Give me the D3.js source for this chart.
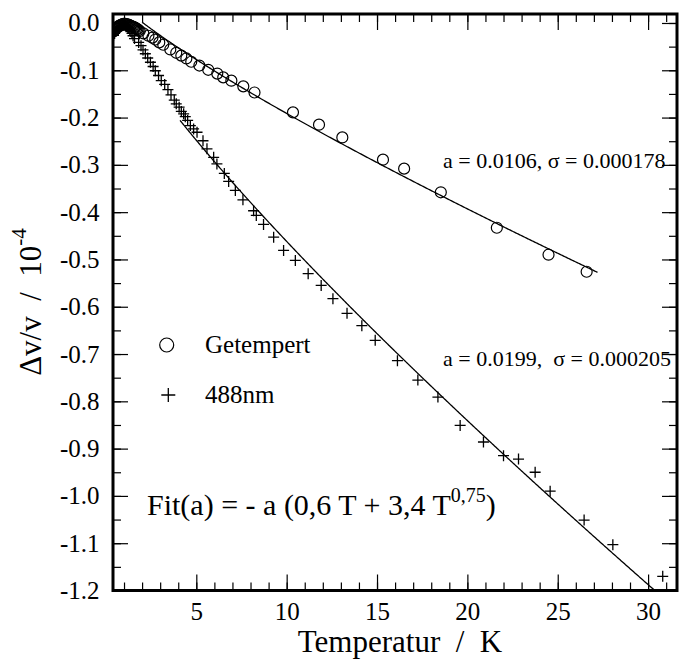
<!DOCTYPE html>
<html>
<head>
<meta charset="utf-8">
<script src="https://cdn.jsdelivr.net/npm/d3@7/dist/d3.min.js"></script>
<style>
  html, body { margin: 0; padding: 0; background: #fff; }
  svg { display: block; }
  svg text { font-family: "Liberation Serif", "Times New Roman", Times, serif; fill: #000; }
</style>
</head>
<body>
<svg id="chart" width="679" height="663"></svg>
<script>
// Relative sound-velocity change Δv/v (units of 1e-4) versus temperature

// annealed sample ("Getempert")
const annealedT = [0.42,0.48,0.54,0.60,0.66,0.72,0.78,0.84,0.90,0.96,1.02,1.08,1.14,1.20,1.26,1.32,
  1.38,1.44,1.50,1.56,1.62,1.68,1.74,1.80,
  1.87,2.07,2.35,2.57,2.73,2.95,3.17,3.56,3.89,4.17,4.45,4.72,5.17,5.66,6.16,6.49,6.94,
  7.6,8.22,10.35,11.79,13.08,15.33,16.5,18.53,21.63,24.49,26.6];
const annealedV = [-0.018,-0.015,-0.012,-0.010,-0.008,-0.006,-0.005,-0.004,-0.003,-0.002,-0.002,-0.002,-0.003,-0.003,-0.004,-0.005,
  -0.006,-0.007,-0.008,-0.009,-0.010,-0.012,-0.013,-0.015,
  -0.017,-0.022,-0.027,-0.031,-0.035,-0.041,-0.046,-0.056,-0.063,-0.069,-0.075,-0.082,-0.090,-0.099,-0.107,-0.115,-0.122,
  -0.134,-0.147,-0.189,-0.215,-0.242,-0.289,-0.308,-0.358,-0.433,-0.490,-0.526];

// illuminated sample (488 nm)
const litT = [0.42,0.48,0.54,0.60,0.66,0.72,0.78,0.84,0.90,0.96,1.02,1.08,1.14,1.20,1.26,1.32,1.38,1.44,1.50,
  1.58,1.81,1.94,2.05,2.18,2.31,2.46,2.61,
  2.73,2.91,3.06,3.25,3.43,3.6,3.78,3.89,4.05,4.17,4.3,4.39,4.52,4.67,4.85,5.04,5.37,5.59,5.96,6.14,6.55,
  6.79,7.16,7.58,8.17,8.32,8.72,9.28,9.83,10.48,11.19,11.91,12.56,13.34,14.16,14.9,16.13,17.26,18.37,
  19.6,20.89,22.0,22.83,23.75,24.58,26.46,28.05,30.81];
const litV = [-0.026,-0.022,-0.018,-0.015,-0.012,-0.010,-0.008,-0.007,-0.006,-0.005,-0.005,-0.006,-0.007,-0.009,-0.011,-0.014,-0.018,-0.022,-0.027,
  -0.033,-0.041,-0.048,-0.057,-0.065,-0.074,-0.083,-0.092,
  -0.101,-0.111,-0.122,-0.130,-0.141,-0.152,-0.163,-0.171,-0.178,-0.187,-0.192,-0.198,-0.206,-0.217,-0.224,-0.231,-0.249,-0.266,-0.284,-0.298,-0.318,
  -0.335,-0.354,-0.374,-0.397,-0.407,-0.426,-0.453,-0.481,-0.502,-0.530,-0.555,-0.583,-0.614,-0.640,-0.671,-0.714,-0.755,-0.791,
  -0.851,-0.886,-0.915,-0.922,-0.950,-0.990,-1.051,-1.103,-1.170];

// fit parameters: Fit(a) = -a (0.6 T + 3.4 T^0.75) + c
const fitA      = [0.0106, 0.0199];
const fitSigma  = ["0.000178", "0.000205"];
const fitOffset = [0.075, 0.038];
const fitRange  = [[2.0, 27.2], [4.1, 31.5]];

// tick values and labels
const xMajor = [5, 10, 15, 20, 25, 30];
const xLabels = ["5", "10", "15", "20", "25", "30"];
const yMajor = [0, -0.1, -0.2, -0.3, -0.4, -0.5, -0.6, -0.7, -0.8, -0.9, -1.0, -1.1, -1.2];
const yLabels = ["0.0","-0.1","-0.2","-0.3","-0.4","-0.5","-0.6","-0.7","-0.8","-0.9","-1.0","-1.1","-1.2"];

const SERIF = '"Liberation Serif", "Times New Roman", Times, serif';
const svg = d3.select("#chart");
const L = 113, R = 677, T = 14, B = 590.5;

const x = d3.scaleLinear().domain([0.39, 31.6]).range([L, R]);
const y = d3.scaleLinear().domain([-1.2, 0.019]).range([B, T]);

const xMinor = d3.range(1, 32, 1);
const yMinor = d3.range(-1.2, 0.0001, 0.05).map(v => +v.toFixed(2));

function styleAxis(g, fontSize) {
  g.attr("font-family", SERIF).attr("font-size", fontSize);
  g.select(".domain").remove();
  g.selectAll(".tick line").attr("stroke", "#000").attr("stroke-width", 1.2);
  g.selectAll(".tick text")
    .attr("fill", "#000")
    .attr("font-family", SERIF)
    .style("font-family", SERIF)
    .style("font-size", fontSize + "px");
}

// bottom axis
svg.append("g").attr("transform", `translate(0,${B})`)
  .call(d3.axisBottom(x).tickValues(xMinor).tickSize(-8).tickFormat(""))
  .call(g => styleAxis(g, 25));
svg.append("g").attr("transform", `translate(0,${B})`)
  .call(d3.axisBottom(x).tickValues(xMajor).tickSize(-16).tickPadding(11.5)
    .tickFormat((d, i) => xLabels[i]))
  .call(g => styleAxis(g, 25));
// top axis
svg.append("g").attr("transform", `translate(0,${T})`)
  .call(d3.axisTop(x).tickValues(xMinor).tickSize(-8).tickFormat(""))
  .call(g => styleAxis(g, 25));
svg.append("g").attr("transform", `translate(0,${T})`)
  .call(d3.axisTop(x).tickValues(xMajor).tickSize(-16).tickFormat(""))
  .call(g => styleAxis(g, 25));
// left axis
svg.append("g").attr("transform", `translate(${L},0)`)
  .call(d3.axisLeft(y).tickValues(yMinor).tickSize(-8).tickFormat(""))
  .call(g => styleAxis(g, 25));
svg.append("g").attr("transform", `translate(${L},0)`)
  .call(d3.axisLeft(y).tickValues(yMajor).tickSize(-15).tickPadding(13.5)
    .tickFormat((d, i) => yLabels[i]))
  .call(g => styleAxis(g, 25));
// right axis
svg.append("g").attr("transform", `translate(${R},0)`)
  .call(d3.axisRight(y).tickValues(yMinor).tickSize(-8).tickFormat(""))
  .call(g => styleAxis(g, 25));
svg.append("g").attr("transform", `translate(${R},0)`)
  .call(d3.axisRight(y).tickValues(yMajor).tickSize(-15).tickFormat(""))
  .call(g => styleAxis(g, 25));

// plot frame
svg.append("rect")
  .attr("x", L).attr("y", T).attr("width", R - L).attr("height", B - T)
  .attr("fill", "none").attr("stroke", "#000").attr("stroke-width", 3);

svg.append("clipPath").attr("id", "plotClip")
  .append("rect").attr("x", L).attr("y", T).attr("width", R - L).attr("height", B - T);

const plot = svg.append("g").attr("clip-path", "url(#plotClip)");

// fit curves
const fitLine = d3.line().x(d => x(d[0])).y(d => y(d[1]));
fitA.forEach((a, k) => {
  const [t0, t1] = fitRange[k];
  const pts = d3.range(t0, t1 + 1e-9, 0.05)
    .map(t => [t, -a * (0.6 * t + 3.4 * Math.pow(t, 0.75)) + fitOffset[k]]);
  plot.append("path").datum(pts)
    .attr("d", fitLine)
    .attr("fill", "none").attr("stroke", "#000").attr("stroke-width", 1.3);
});

// 488 nm points (plus markers)
const plusPath = h => `M${-h},0H${h}M0,${-h}V${h}`;
plot.append("g").selectAll("path")
  .data(d3.zip(litT, litV))
  .join("path")
  .attr("transform", d => `translate(${x(d[0])},${y(d[1])})`)
  .attr("d", plusPath(5.5))
  .attr("fill", "none").attr("stroke", "#000").attr("stroke-width", 1.3);

// annealed points (open circles)
plot.append("g").selectAll("circle")
  .data(d3.zip(annealedT, annealedV))
  .join("circle")
  .attr("cx", d => x(d[0])).attr("cy", d => y(d[1]))
  .attr("r", 5.5)
  .attr("fill", "none").attr("stroke", "#000").attr("stroke-width", 1.2);

// text helper
function label(px, py, size) {
  return svg.append("text").attr("x", px).attr("y", py)
    .attr("font-family", SERIF).attr("font-size", size)
    .style("white-space", "pre");
}

// legend
svg.append("circle").attr("cx", 166.7).attr("cy", 345).attr("r", 7)
  .attr("fill", "none").attr("stroke", "#000").attr("stroke-width", 1.2);
svg.append("path").attr("transform", "translate(168.3,395)").attr("d", plusPath(7))
  .attr("fill", "none").attr("stroke", "#000").attr("stroke-width", 1.3);
label(205, 353, 25).text("Getempert");
label(205, 403, 25).text("488nm");

// fit annotations
label(443, 168, 22).text(`a = ${fitA[0]}, σ = ${fitSigma[0]}`);
label(443, 366, 22).text(`a = ${fitA[1]},  σ = ${fitSigma[1]}`);

const fitText = label(147, 515, 30);
fitText.append("tspan").text("Fit(a) = - a (0,6 T + 3,4 T");
fitText.append("tspan").attr("dy", -13).attr("font-size", 20).text("0,75");
fitText.append("tspan").attr("dy", 13).text(")");

// axis titles
label(400, 652, 31).attr("text-anchor", "middle").text("Temperatur  /  K");

const yTitle = svg.append("text")
  .attr("transform", "translate(41,302) rotate(-90)")
  .attr("text-anchor", "middle")
  .attr("font-family", SERIF).attr("font-size", 31)
  .style("white-space", "pre");
yTitle.append("tspan").text("Δv/v  /  10");
yTitle.append("tspan").attr("dy", -15).attr("font-size", 21).text("-4");
</script>
</body>
</html>
